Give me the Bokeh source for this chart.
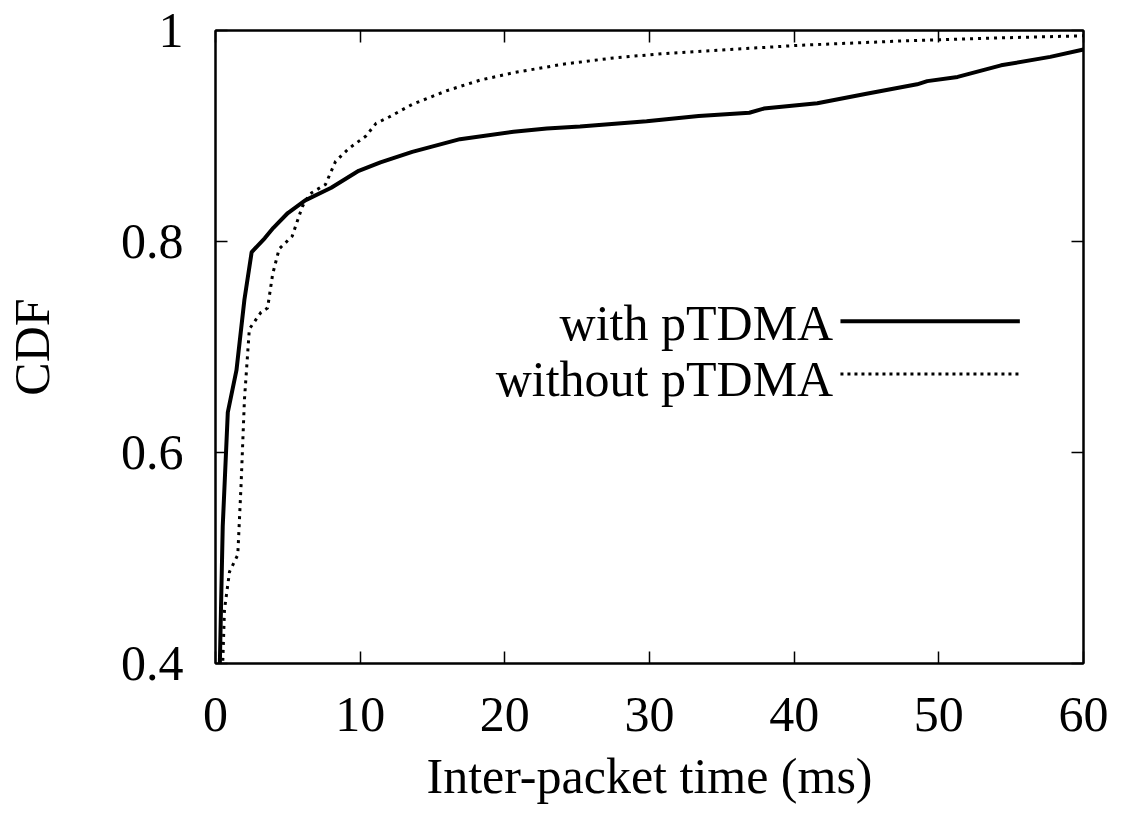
from bokeh.plotting import figure
from bokeh.models import LinearAxis, FixedTicker, Range1d
from bokeh.core.properties import value
from bokeh.embed import file_html
from bokeh.resources import INLINE

# ---- data ----
with_x = [0.25, 0.3, 0.5, 0.85, 1.45, 2.0, 2.5, 3.4, 4.0, 5.0, 6.2, 8.0, 9.9, 11.4,
          13.6, 16.9, 20.6, 22.9, 25.2, 29.8, 33.4, 36.9, 37.9, 41.6, 45.0, 48.5,
          49.2, 51.3, 54.3, 57.7, 60.0]
with_y = [0.395, 0.40, 0.53, 0.638, 0.678, 0.745, 0.790, 0.803, 0.813, 0.827, 0.839,
          0.851, 0.867, 0.875, 0.885, 0.897, 0.904, 0.907, 0.909, 0.914, 0.919, 0.922,
          0.926, 0.931, 0.940, 0.949, 0.952, 0.956, 0.967, 0.975, 0.982]

without_x = [0.45, 0.5, 0.62, 0.97, 1.54, 1.77, 2.0, 2.34, 3.15, 3.6, 3.95, 4.4, 5.3,
             6.0, 6.5, 7.6, 8.3, 9.2, 10.4, 11.1, 12.0, 13.6, 16.0, 18.3, 20.6, 24.0,
             27.5, 30.9, 35.6, 40.4, 47.3, 54.3, 60.0]
without_y = [0.395, 0.40, 0.451, 0.487, 0.503, 0.570, 0.650, 0.717, 0.733, 0.737, 0.769,
             0.793, 0.805, 0.833, 0.845, 0.854, 0.876, 0.888, 0.900, 0.912, 0.918, 0.930,
             0.943, 0.953, 0.960, 0.968, 0.974, 0.978, 0.982, 0.986, 0.990, 0.993, 0.995]

series_names = ["with pTDMA", "without pTDMA"]
x_ticks = [0, 10, 20, 30, 40, 50, 60]
y_ticks = [0.4, 0.6, 0.8, 1.0]
y_tick_labels = {0.4: "0.4", 0.6: "0.6", 0.8: "0.8", 1.0: "1"}

FONT = "Liberation Serif"
FS = "50px"

p = figure(output_backend="svg", toolbar_location=None,
           frame_width=868, frame_height=633,
           min_border_left=200, min_border_right=30,
           min_border_top=30, min_border_bottom=137,
           x_range=Range1d(0, 60), y_range=Range1d(0.4, 1.0),
           x_axis_label="Inter-packet time (ms)", y_axis_label="CDF")

p.background_fill_color = "white"
p.border_fill_color = "white"
p.outline_line_color = "black"
p.outline_line_width = 2
p.xgrid.visible = False
p.ygrid.visible = False

for ax in p.xaxis:
    ax.ticker = FixedTicker(ticks=x_ticks)
for ax in p.yaxis:
    ax.ticker = FixedTicker(ticks=y_ticks)
    ax.major_label_overrides = y_tick_labels

def style_axis(ax):
    ax.axis_line_color = "black"
    ax.axis_line_width = 2
    ax.major_tick_line_color = "black"
    ax.major_tick_line_width = 1.5
    ax.major_tick_in = 12
    ax.major_tick_out = 0
    ax.minor_tick_line_color = None
    ax.major_label_text_font = FONT
    ax.major_label_text_font_size = FS
    ax.major_label_text_color = "black"
    ax.axis_label_text_font = FONT
    ax.axis_label_text_font_size = FS
    ax.axis_label_text_font_style = "normal"
    ax.axis_label_text_color = "black"

for ax in p.xaxis:
    style_axis(ax)
    ax.major_label_standoff = 34
    ax.axis_label_standoff = 14
for ax in p.yaxis:
    style_axis(ax)
    ax.major_label_standoff = 32
    ax.axis_label_standoff = 58

# mirrored ticks (no labels) on top and right, as in the reference
top = LinearAxis(ticker=FixedTicker(ticks=x_ticks))
style_axis(top)
top.major_label_overrides = {t: "" for t in x_ticks}
top.major_label_standoff = 0
p.add_layout(top, "above")
right = LinearAxis(ticker=FixedTicker(ticks=y_ticks))
style_axis(right)
right.major_label_overrides = {t: "" for t in y_ticks}
right.major_label_standoff = 0
p.add_layout(right, "right")

p.line(with_x, with_y, line_color="black", line_width=4)
p.line(without_x, without_y, line_color="black", line_width=3, line_dash="3 5")

# legend (manual, gnuplot style: text then sample line)
leg_text_x = [42.7, 42.7]
leg_y = [0.7225, 0.6695]
p.text(x=leg_text_x, y=leg_y, text=series_names, text_align="right",
       text_baseline="middle", text_font=value(FONT), text_font_size=FS,
       text_color="black")
p.segment(x0=[43.2], y0=[0.7245], x1=[55.6], y1=[0.7245],
          line_color="black", line_width=4)
p.segment(x0=[43.2], y0=[0.6745], x1=[55.6], y1=[0.6745],
          line_color="black", line_width=3, line_dash="3 4")

open("out.html", "w").write(file_html(p, INLINE))
